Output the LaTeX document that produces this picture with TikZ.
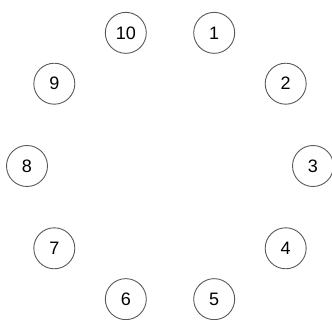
\documentclass[tikz,border=0pt]{standalone}
\usepackage{fontspec}
\setmainfont{Liberation Sans}
\begin{document}
\begin{tikzpicture}[x=1pt,y=-1pt,
  num/.style={circle,draw=black!65,line width=0.9pt,minimum size=41pt,inner sep=0pt,font=\fontsize{18}{18}\selectfont}]
\useasboundingbox[clip] (0,0) rectangle (332,320);
\foreach \n/\a in {1/72,2/36,3/0,4/-36,5/-72,6/-108,7/-144,8/180,9/144,10/108}{
  \node[num] (c\n) at ({170+143*cos(\a)},{166-140*sin(\a)}) {\n};
}
\end{tikzpicture}
\end{document}
